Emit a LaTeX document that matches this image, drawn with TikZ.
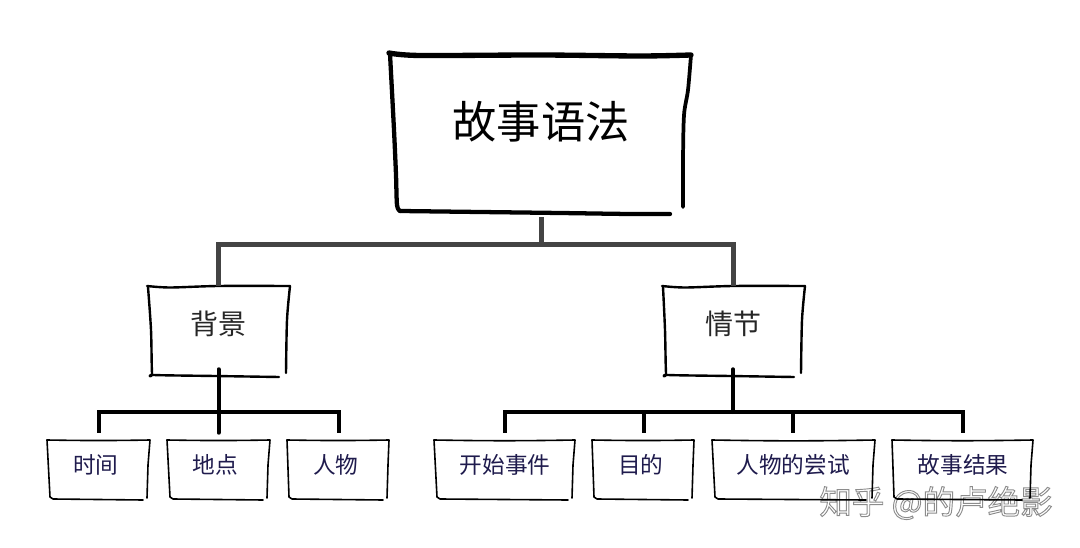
\documentclass[tikz,border=0pt]{standalone}
\usepackage{fontspec}
\setmainfont{Noto Sans CJK SC}
\usepackage{tikz}
\definecolor{leafink}{HTML}{1F1B4D}
\definecolor{trunkgray}{HTML}{444444}
\tikzset{
	storynode/.style={font=\fontsize{33.2pt}{36pt}\selectfont, minimum width=290*0.75pt, minimum height=164*0.75pt, text depth=23pt, inner sep=0pt},
	partnode/.style={font=\fontsize{21pt}{24pt}\selectfont, text=black!85, minimum width=120*0.75pt, minimum height=83*0.75pt, text depth=6.5pt, inner sep=0pt},
	leafnode/.style={font=\fontsize{17pt}{20pt}\selectfont, text=leafink, minimum width=90*0.75pt, minimum height=73*0.75pt, text depth=8pt, inner sep=0pt},
	shiftleft/.style={execute at begin node={\hspace*{-5pt}}},
	marknode/.style={font=\fontsize{24.4pt}{28pt}\selectfont, inner sep=0pt},
	storyline/.style={line width=3.2pt, line cap=round, line join=round},
	partline/.style={line width=1.8pt, line cap=round, line join=round},
	leafline/.style={line width=1.2pt, line cap=round, line join=round},
	trunk/.style={line width=3.75pt, draw=trunkgray},
	branch/.style={line width=3pt, draw=black},
}
\begin{document}
\begin{tikzpicture}[x=0.75pt, y=-0.75pt]
	\useasboundingbox (0,0) rectangle (1080,548);
	%Nodes
	\node[storynode]      (story)  at (541,135)    {故事语法};
	\node[partnode]       (bg)     at (218.5,327.5) {背景};
	\node[partnode]       (plot)   at (733,327.5)  {情节};
	\node[leafnode,shiftleft] (time)   at (99,469.5)   {时间};
	\node[leafnode,shiftleft] (place)  at (218.5,469.5) {地点};
	\node[leafnode,shiftleft] (person) at (339,469.5)  {人物};
	\node[leafnode]       (begin)  at (505,469.5)  {开始事件};
	\node[leafnode,shiftleft] (goal)   at (644,469.5)  {目的};
	\node[leafnode]       (try)    at (793,469.5)  {人物的尝试};
	\node[leafnode]       (result) at (963,469.5)  {故事结果};
	\node[marknode]       (mark)   at (936,503)    {\special{pdf:code 2 Tr 0.7 w 0.55 G 1 g}知乎 @的卢绝影\special{pdf:code 0 Tr 0 g 0 G}};
	\coordinate (storyjoin) at (541,245);
	\coordinate (bgjoin)    at (218.5,412);
	\coordinate (plotjoin)  at (733,412);

	%Outlines
	\draw[storyline, line width=4pt] plot[smooth] coordinates {(389,53) (420,55.5) (540,55) (640,56) (691,55)};
	\draw[storyline] plot[smooth] coordinates {(390,54) (394,130) (396,175) (397,205) (400,211)};
	\draw[storyline] plot[smooth] coordinates {(400,211) (480,212) (560,213) (630,214) (670,214)};
	\draw[storyline, line width=2.8pt] plot[smooth] coordinates {(691,55) (688,90) (684,115) (683,160) (683,207)};

	\draw[partline] plot[smooth] coordinates {(147,286) (170,287.5) (218,286) (290,286)};
	\draw[partline] plot[smooth] coordinates {(148,287) (151,330) (152,373) (154,375) (215,376) (279,377)};
	\draw[partline] plot[smooth] coordinates {(290,286) (287,320) (286,373)};
	\draw[partline] plot[smooth] coordinates {(662,286) (685,287.5) (733,286) (805,286)};
	\draw[partline] plot[smooth] coordinates {(663,287) (665,330) (666,373) (668,375) (730,376) (794,377)};
	\draw[partline] plot[smooth] coordinates {(805,286) (802,320) (801,373)};

	\foreach \xa/\xb/\xc/\xd/\xe in {47/150/50/143/147, 167/270/170/263/267, 287/389/289/383/387, 434/575/437/568/572, 592/694/594/688/692, 712/875/715/866/872, 892/1033/894/1022/1030}{
		\draw[leafline] (\xa,440) to[bend right=1] (\xb,440) -- (\xe+1,465) -- (\xe,498);
		\draw[leafline] (\xa,440) -- (\xc,497) to[bend right=30] (\xc+3,499) -- (\xd,500);
	}

	%Connectors
	\draw[trunk] (story.south) -- (storyjoin);
	\draw[trunk] (bg.north) -- (bg.north |- storyjoin) -- (plot.north |- storyjoin) -- (plot.north);
	\draw[branch, line cap=round] (bg.south) -- (place.north);
	\draw[branch] (time.north) -- (time.north |- bgjoin) -- (person.north |- bgjoin) -- (person.north);
	\draw[branch, line cap=round] (plot.south) -- (plotjoin);
	\draw[branch] (begin.north) -- (begin.north |- plotjoin) -- (result.north |- plotjoin) -- (result.north);
	\draw[branch, line width=2.6pt] (goal.north) -- (goal.north |- plotjoin);
	\draw[branch, line width=2.6pt] (try.north) -- (try.north |- plotjoin);
\end{tikzpicture}
\end{document}
